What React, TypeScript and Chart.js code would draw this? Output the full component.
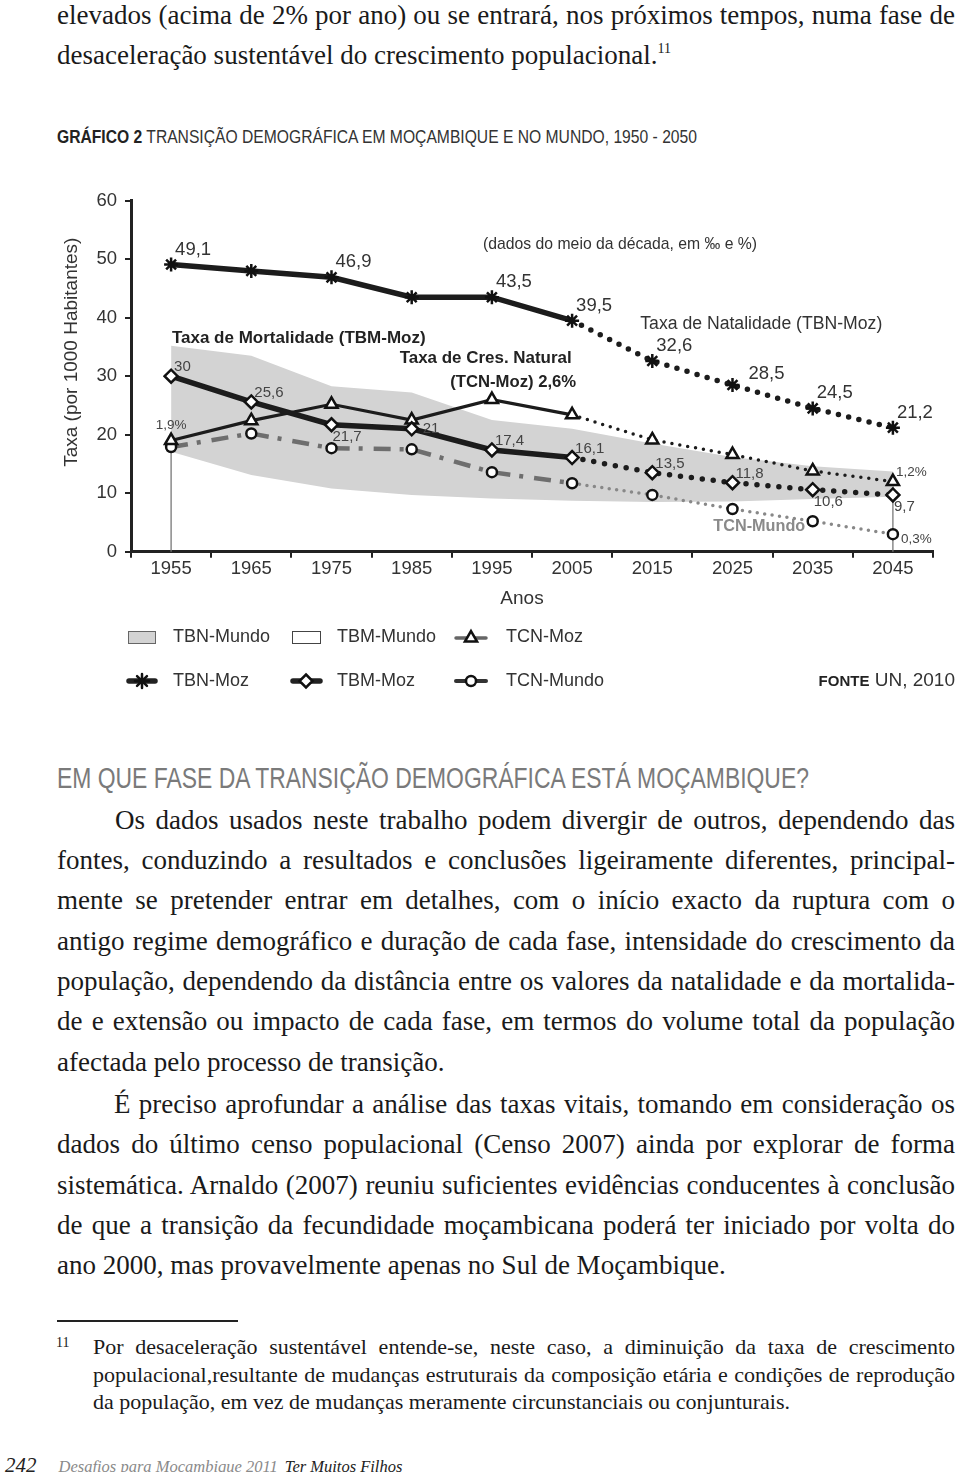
import React, { useEffect, useRef } from 'react';
import { Chart, registerables } from 'chart.js';

Chart.register(...registerables);

// ---------------- data ----------------
const years = ['1955', '1965', '1975', '1985', '1995', '2005', '2015', '2025', '2035', '2045'];
const tbnMundo = [35.2, 33.5, 28.3, 27.2, 22.5, 21.0, 18.5, 16.2, 14.6, 13.7];
const tbmMundo = [17.1, 13.1, 10.8, 9.7, 9.1, 8.7, 8.5, 8.6, 9.0, 9.4];
const tbnMoz = [49.1, 48.0, 46.9, 43.5, 43.5, 39.5, 32.6, 28.5, 24.5, 21.2];
const tbmMoz = [30, 25.6, 21.7, 21, 17.4, 16.1, 13.5, 11.8, 10.6, 9.7];
const tcnMoz = [19, 22.4, 25.2, 22.5, 26, 23.4, 19.1, 16.6, 13.8, 12];
const tcnMundo = [17.9, 20.2, 17.7, 17.5, 13.6, 11.7, 9.7, 7.3, 5.2, 3];
const yMin = 0;
const yMax = 60;
const yStep = 10;
const projectionFrom = 5; // index (2005) from which the series are projections (dotted)

// value labels: [index, placement keyword]
const tbnMozLabels: [number, string][] = [[0, 'neHigh'], [2, 'neHigh'], [4, 'neHigh'], [5, 'neHigh'], [6, 'neHigh'], [7, 'eHigh'], [8, 'neHigh'], [9, 'neHigh']];
const tbmMozLabels: [number, string][] = [[0, 'ne'], [1, 'ne'], [2, 'se'], [3, 'e'], [4, 'ne'], [5, 'ne'], [6, 'ne'], [7, 'ne'], [8, 'se'], [9, 'se']];
const tcnMozLabels: [number, string][] = [[0, 'n'], [9, 'ne']];
const tcnMundoLabels: [number, string][] = [[9, 'es']];

const SANS = '"Liberation Sans", Arial, Helvetica, sans-serif';
const SERIF = '"Liberation Serif", "Times New Roman", serif';

const PLACE: Record<string, [number, number, CanvasTextAlign]> = {
  ne: [3, -9, 'left'],
  neHigh: [4, -15, 'left'],
  e: [11, 0, 'left'],
  eHigh: [16, -11, 'left'],
  se: [1, 12, 'left'],
  n: [0, -15, 'center'],
  es: [8, 5, 'left'],
};

const fmt = (v: number) => (Number.isInteger(v) ? String(v) : v.toFixed(1)).replace('.', ',');
const fmtPct = (v: number) => (v / 10).toFixed(1).replace('.', ',') + '%';

function txt(ctx: CanvasRenderingContext2D, s: string, x: number, y: number, font: string, color: string, align: CanvasTextAlign = 'left', maxW?: number) {
  ctx.save();
  ctx.font = font;
  ctx.fillStyle = color;
  ctx.textAlign = align;
  ctx.textBaseline = 'middle';
  if (maxW) ctx.fillText(s, x, y, maxW);
  else ctx.fillText(s, x, y);
  ctx.restore();
}

function star(ctx: CanvasRenderingContext2D, x: number, y: number, r: number) {
  ctx.beginPath();
  for (let k = 0; k < 4; k++) {
    const a = (k * Math.PI) / 4;
    ctx.moveTo(x - Math.cos(a) * r, y - Math.sin(a) * r);
    ctx.lineTo(x + Math.cos(a) * r, y + Math.sin(a) * r);
  }
  ctx.strokeStyle = '#111';
  ctx.lineWidth = 2.5;
  ctx.stroke();
}
function diamond(ctx: CanvasRenderingContext2D, x: number, y: number, r: number) {
  ctx.beginPath();
  ctx.moveTo(x, y - r); ctx.lineTo(x + r, y); ctx.lineTo(x, y + r); ctx.lineTo(x - r, y); ctx.closePath();
  ctx.fillStyle = '#fff'; ctx.fill(); ctx.strokeStyle = '#111'; ctx.lineWidth = 2.5; ctx.stroke();
}
function triangle(ctx: CanvasRenderingContext2D, x: number, y: number, r: number) {
  ctx.beginPath();
  ctx.moveTo(x, y - r); ctx.lineTo(x + r * 0.866, y + r * 0.5); ctx.lineTo(x - r * 0.866, y + r * 0.5); ctx.closePath();
  ctx.fillStyle = '#fff'; ctx.fill(); ctx.strokeStyle = '#111'; ctx.lineWidth = 2.5; ctx.stroke();
}
function circle(ctx: CanvasRenderingContext2D, x: number, y: number, r: number) {
  ctx.beginPath(); ctx.arc(x, y, r, 0, Math.PI * 2);
  ctx.fillStyle = '#fff'; ctx.fill(); ctx.strokeStyle = '#111'; ctx.lineWidth = 2.5; ctx.stroke();
}
function hline(ctx: CanvasRenderingContext2D, x1: number, x2: number, y: number, w: number, c: string) {
  ctx.beginPath(); ctx.moveTo(x1, y); ctx.lineTo(x2, y);
  ctx.lineWidth = w; ctx.strokeStyle = c; ctx.lineCap = 'round'; ctx.stroke();
}

const decorPlugin = {
  id: 'decor',
  beforeDatasetsDraw(chart: any) {
    const ctx: CanvasRenderingContext2D = chart.ctx;
    const xs = chart.scales.x;
    const ys = chart.scales.y;
    ctx.save();
    [0, years.length - 1].forEach((i) => {
      const x = xs.getPixelForValue(i);
      ctx.beginPath();
      ctx.moveTo(x, ys.getPixelForValue(tcnMoz[i]));
      ctx.lineTo(x, ys.getPixelForValue(0));
      ctx.lineWidth = 1.3;
      ctx.strokeStyle = '#777';
      ctx.stroke();
    });
    ctx.restore();
  },
  afterDatasetsDraw(chart: any) {
    const ctx: CanvasRenderingContext2D = chart.ctx;
    const xs = chart.scales.x;
    const ys = chart.scales.y;
    const px = (year: number) => xs.getPixelForValue((year - 1955) / 10);
    const py = (v: number) => ys.getPixelForValue(v);

    const drawLabels = (dsIndex: number, list: [number, string][], text: (v: number) => string, font: string, color: string) => {
      const meta = chart.getDatasetMeta(dsIndex);
      const data = chart.data.datasets[dsIndex].data as number[];
      list.forEach(([i, pos]) => {
        const p = meta.data[i];
        const [dx, dy, align] = PLACE[pos];
        txt(ctx, text(data[i]), p.x + dx, p.y + dy, font, color, align);
      });
    };
    drawLabels(0, tbnMozLabels, fmt, `18.5px ${SANS}`, '#333');
    drawLabels(1, tbmMozLabels, fmt, `15px ${SANS}`, '#444');
    drawLabels(2, tcnMozLabels, fmtPct, `13.5px ${SANS}`, '#444');
    drawLabels(3, tcnMundoLabels, fmtPct, `13.5px ${SANS}`, '#444');

    // annotations (placed in data coordinates)
    txt(ctx, '(dados do meio da década, em ‰ e %)', px(1993.9), py(52.6), `17px ${SANS}`, '#333', 'left', 274);
    txt(ctx, 'Taxa de Mortalidade (TBM-Moz)', px(1955.1), py(36.5), `bold 17px ${SANS}`, '#222', 'left', 256);
    txt(ctx, 'Taxa de Cres. Natural', px(1983.5), py(33.1), `bold 17px ${SANS}`, '#222', 'left', 172);
    txt(ctx, `(TCN-Moz) ${fmtPct(tcnMoz[4])}`, px(1989.8), py(29.0), `bold 17px ${SANS}`, '#222', 'left', 126);
    txt(ctx, 'Taxa de Natalidade (TBN-Moz)', px(2013.5), py(38.9), `18px ${SANS}`, '#333', 'left', 242);
    txt(ctx, 'TCN-Mundo', px(2022.6), py(4.4), `bold 17px ${SANS}`, '#8a8a8a', 'left', 92);
  },
  afterDraw(chart: any) {
    const ctx: CanvasRenderingContext2D = chart.ctx;
    const ca = chart.chartArea;
    const xs = chart.scales.x;
    const ys = chart.scales.y;

    // axis titles
    ctx.save();
    ctx.translate(ca.left - 59, ys.getPixelForValue(34.1));
    ctx.rotate(-Math.PI / 2);
    txt(ctx, 'Taxa (por 1000 Habitantes)', 0, 0, `19px ${SANS}`, '#333', 'center', 264);
    ctx.restore();
    txt(ctx, 'Anos', xs.getPixelForValue(4.375), ca.bottom + 47.3, `19px ${SANS}`, '#333', 'center');

    // legend
    const r1 = ca.bottom + 85.3;
    const r2 = ca.bottom + 129.3;
    const f = `18px ${SANS}`;
    const c = '#333';
    ctx.save();
    ctx.fillStyle = '#d3d3d3'; ctx.fillRect(128, r1 - 6, 27, 12);
    ctx.strokeStyle = '#666'; ctx.lineWidth = 1; ctx.strokeRect(128.5, r1 - 5.5, 27, 12);
    ctx.fillStyle = '#fff'; ctx.fillRect(292, r1 - 6, 28, 12);
    ctx.strokeStyle = '#444'; ctx.strokeRect(292.5, r1 - 5.5, 28, 12);
    hline(ctx, 456, 486, r1 + 1, 3.5, '#666');
    triangle(ctx, 471, r1 + 1, 7);
    hline(ctx, 129, 155, r2, 5.5, '#222');
    star(ctx, 142, r2, 7);
    hline(ctx, 293, 320, r2, 5.5, '#222');
    diamond(ctx, 306, r2, 6.5);
    hline(ctx, 456, 486, r2, 4, '#333');
    circle(ctx, 471, r2, 5);
    ctx.restore();
    const ds = chart.data.datasets;
    txt(ctx, ds[4].label, 173, r1, f, c);
    txt(ctx, ds[5].label, 337, r1, f, c);
    txt(ctx, ds[2].label, 506, r1, f, c);
    txt(ctx, ds[0].label, 173, r2, f, c);
    txt(ctx, ds[1].label, 337, r2, f, c);
    txt(ctx, ds[3].label, 506, r2, f, c);

    // source
    ctx.save();
    ctx.font = `19px ${SANS}`;
    const wRest = ctx.measureText(' UN, 2010').width;
    ctx.restore();
    txt(ctx, ' UN, 2010', 955, r2, `19px ${SANS}`, '#333', 'right');
    txt(ctx, 'FONTE', 955 - wRest, r2 + 0.5, `bold 15px ${SANS}`, '#222', 'right');
  },
};

function ChartBlock() {
  const ref = useRef<HTMLCanvasElement | null>(null);
  useEffect(() => {
    if (!ref.current) return;
    const proj = (ctx: any) => ctx.p0DataIndex >= projectionFrom;
    const chart = new Chart(ref.current, {
      type: 'line',
      data: {
        labels: years,
        datasets: [
          {
            label: 'TBN-Moz',
            data: tbnMoz,
            borderColor: '#1c1c1c',
            borderWidth: 5.5,
            pointStyle: 'star',
            pointRadius: 7,
            pointBorderWidth: 2.5,
            pointBorderColor: '#111',
            pointBackgroundColor: '#fff',
            segment: {
              borderDash: (ctx: any) => (proj(ctx) ? [0, 10.5] : undefined),
              borderCapStyle: (ctx: any) => (proj(ctx) ? 'round' : 'butt'),
            },
            fill: false,
          },
          {
            label: 'TBM-Moz',
            data: tbmMoz,
            borderColor: '#1c1c1c',
            borderWidth: 5.5,
            pointStyle: 'rectRot',
            pointRadius: 6.5,
            pointBorderWidth: 2.5,
            pointBorderColor: '#111',
            pointBackgroundColor: '#fff',
            segment: {
              borderDash: (ctx: any) => (proj(ctx) ? [0, 11] : undefined),
              borderCapStyle: (ctx: any) => (proj(ctx) ? 'round' : 'butt'),
            },
            fill: false,
          },
          {
            label: 'TCN-Moz',
            data: tcnMoz,
            borderColor: '#1c1c1c',
            borderWidth: 3.2,
            pointStyle: 'triangle',
            pointRadius: 7,
            pointBorderWidth: 2.5,
            pointBorderColor: '#111',
            pointBackgroundColor: '#fff',
            segment: {
              borderDash: (ctx: any) => (proj(ctx) ? [0, 8] : undefined),
              borderWidth: (ctx: any) => (proj(ctx) ? 3.5 : 3.2),
              borderCapStyle: (ctx: any) => (proj(ctx) ? 'round' : 'butt'),
            },
            fill: false,
          },
          {
            label: 'TCN-Mundo',
            data: tcnMundo,
            borderColor: '#6e6e6e',
            borderWidth: 4.5,
            pointStyle: 'circle',
            pointRadius: 5,
            pointBorderWidth: 2.5,
            pointBorderColor: '#111',
            pointBackgroundColor: '#fff',
            segment: {
              borderDash: (ctx: any) => (proj(ctx) ? [0, 7.5] : [17, 9, 4, 11]),
              borderWidth: (ctx: any) => (proj(ctx) ? 3.5 : 4.5),
              borderColor: (ctx: any) => (proj(ctx) ? '#888' : '#6e6e6e'),
              borderCapStyle: (ctx: any) => (proj(ctx) ? 'round' : 'butt'),
            },
            fill: false,
          },
          {
            label: 'TBN-Mundo',
            data: tbnMundo,
            borderWidth: 0,
            borderColor: 'rgba(0,0,0,0)',
            pointRadius: 0,
            backgroundColor: '#d3d3d3',
            fill: '+1',
          },
          {
            label: 'TBM-Mundo',
            data: tbmMundo,
            borderWidth: 0,
            borderColor: 'rgba(0,0,0,0)',
            pointRadius: 0,
            backgroundColor: '#ffffff',
            fill: false,
          },
        ],
      },
      options: {
        responsive: false,
        animation: false,
        events: [],
        layout: { padding: { left: 0, right: 27, top: 20.7, bottom: 118.3 } },
        elements: { line: { tension: 0 } },
        plugins: { legend: { display: false }, tooltip: { enabled: false } },
        scales: {
          x: {
            type: 'category',
            offset: true,
            grid: { offset: true, drawOnChartArea: false, tickLength: 6, color: '#222', lineWidth: 2 },
            border: { display: true, color: '#222', width: 3 },
            ticks: { font: { family: SANS, size: 18.5 }, color: '#333', padding: 0, maxRotation: 0, autoSkip: false },
            afterFit: (s: any) => { s.height = 40; },
          },
          y: {
            min: yMin,
            max: yMax,
            grid: { drawOnChartArea: false, tickLength: 6, color: '#222', lineWidth: 2 },
            border: { display: true, color: '#222', width: 3 },
            ticks: { stepSize: yStep, font: { family: SANS, size: 18.5 }, color: '#333', padding: 8 },
            afterFit: (s: any) => { s.width = 131; },
          },
        },
      } as any,
      plugins: [decorPlugin],
    });
    return () => chart.destroy();
  }, []);
  return <canvas ref={ref} width={960} height={530} style={{ position: 'absolute', left: 0, top: 180, width: 960, height: 530 }} />;
}

// text helpers for the page
function Line({ baseline, left = 57, right = 955, size = 27, justify = false, children, color = '#1a1a1a', family = SERIF }: any) {
  return (
    <div
      style={{
        position: 'absolute',
        left,
        width: right - left,
        top: baseline - 0.8375 * size,
        fontFamily: family,
        fontSize: size,
        lineHeight: `${size}px`,
        color,
        textAlign: justify ? 'justify' : 'left',
        textAlignLast: justify ? 'justify' : 'auto',
        whiteSpace: 'nowrap',
      } as any}
    >
      {children}
    </div>
  );
}

export default function App() {
  const para1 = [
    'Os dados usados neste trabalho podem divergir de outros, dependendo das',
    'fontes, conduzindo a resultados e conclusões ligeiramente diferentes, principal-',
    'mente se pretender entrar em detalhes, com o início exacto da ruptura com o',
    'antigo regime demográfico e duração de cada fase, intensidade do crescimento da',
    'população, dependendo da distância entre os valores da natalidade e da mortalida-',
    'de e extensão ou impacto de cada fase, em termos do volume total da população',
    'afectada pelo processo de transição.',
  ];
  const para1Base = [830, 870, 910, 951, 991, 1031, 1072];
  const para2 = [
    'É preciso aprofundar a análise das taxas vitais, tomando em consideração os',
    'dados do último censo populacional (Censo 2007) ainda por explorar de forma',
    'sistemática. Arnaldo (2007) reuniu suficientes evidências conducentes à conclusão',
    'de que a transição da fecundidade moçambicana poderá ter iniciado por volta do',
    'ano 2000, mas provavelmente apenas no Sul de Moçambique.',
  ];
  const para2Base = [1114, 1154, 1195, 1235, 1275];

  return (
    <div style={{ position: 'relative', width: 960, height: 1472, overflow: 'hidden', background: '#fff' }}>
      <style>{'body{margin:0;}'}</style>
      <Line baseline={25} justify>elevados (acima de 2% por ano) ou se entrará, nos próximos tempos, numa fase de</Line>
      <Line baseline={65}>
        desaceleração sustentável do crescimento populacional.
        <span style={{ fontSize: 14, position: 'relative', top: -11 }}>11</span>
      </Line>

      <div
        style={{
          position: 'absolute', left: 57, top: 143 - 0.8465 * 19, fontFamily: SANS, fontSize: 19, lineHeight: '19px',
          color: '#333', whiteSpace: 'nowrap', transform: 'scaleX(0.824)', transformOrigin: 'left top',
        }}
      >
        <b style={{ color: '#222' }}>GRÁFICO 2</b> TRANSIÇÃO DEMOGRÁFICA EM MOÇAMBIQUE E NO MUNDO, 1950 - 2050
      </div>

      <ChartBlock />

      <div
        style={{
          position: 'absolute', left: 57, top: 789 - 0.8465 * 29, fontFamily: SANS, fontSize: 29, lineHeight: '29px',
          color: '#7a7a7a', whiteSpace: 'nowrap', transform: 'scaleX(0.79)', transformOrigin: 'left top',
        }}
      >
        EM QUE FASE DA TRANSIÇÃO DEMOGRÁFICA ESTÁ MOÇAMBIQUE?
      </div>

      {para1.map((t, i) => (
        <Line key={'p1' + i} baseline={para1Base[i]} left={i === 0 ? 115 : 57} justify={i < para1.length - 1}>{t}</Line>
      ))}
      {para2.map((t, i) => (
        <Line key={'p2' + i} baseline={para2Base[i]} left={i === 0 ? 114 : 57} justify={i < para2.length - 1}>{t}</Line>
      ))}

      <div style={{ position: 'absolute', left: 57, top: 1320, width: 181, height: 1.5, background: '#222' }} />
      <Line baseline={1348} left={56} size={14}>11</Line>
      <Line baseline={1354} left={93} size={22} justify>Por desaceleração sustentável entende-se, neste caso, a diminuição da taxa de crescimento</Line>
      <Line baseline={1382} left={93} size={22} justify>populacional,resultante de mudanças estruturais da composição etária e condições de reprodução</Line>
      <Line baseline={1409} left={93} size={22}>da população, em vez de mudanças meramente circunstanciais ou conjunturais.</Line>

      <div style={{ position: 'absolute', left: 5, top: 1473 - 0.8375 * 21, fontFamily: SERIF, fontSize: 21, lineHeight: '21px', fontStyle: 'italic', color: '#222', whiteSpace: 'nowrap' }}>
        242
        <span style={{ fontSize: 16.5, color: '#8a8a8a', marginLeft: 22 }}>Desafios para Moçambique 2011</span>
        <span style={{ fontSize: 16.5, color: '#222', marginLeft: 7 }}>Ter Muitos Filhos</span>
      </div>
    </div>
  );
}
